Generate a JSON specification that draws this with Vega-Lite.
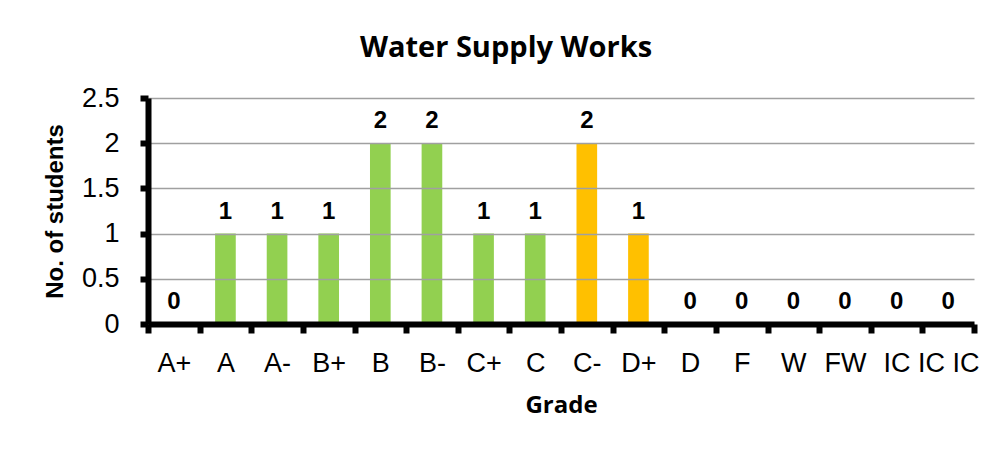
{
  "$schema": "https://vega.github.io/schema/vega-lite/v6.json",
  "width": 826,
  "height": 226,
  "autosize": {"type": "none"},
  "padding": {"left": 148, "top": 98, "right": 20, "bottom": 126},
  "background": "white",
  "config": {"view": {"stroke": null}},
  "title": {
    "text": "Water Supply Works",
    "font": "Open Sans",
    "fontSize": 29,
    "fontWeight": "bold",
    "color": "#000000",
    "anchor": "middle",
    "dx": -55,
    "offset": 21
  },
  "data": {
    "values": [
      {"grade": "A+", "count": 0, "tier": "pass"},
      {"grade": "A", "count": 1, "tier": "pass"},
      {"grade": "A-", "count": 1, "tier": "pass"},
      {"grade": "B+", "count": 1, "tier": "pass"},
      {"grade": "B", "count": 2, "tier": "pass"},
      {"grade": "B-", "count": 2, "tier": "pass"},
      {"grade": "C+", "count": 1, "tier": "pass"},
      {"grade": "C", "count": 1, "tier": "pass"},
      {"grade": "C-", "count": 2, "tier": "marginal"},
      {"grade": "D+", "count": 1, "tier": "marginal"},
      {"grade": "D", "count": 0, "tier": "fail"},
      {"grade": "F", "count": 0, "tier": "fail"},
      {"grade": "W", "count": 0, "tier": "fail"},
      {"grade": "FW", "count": 0, "tier": "fail"},
      {"grade": "IC", "count": 0, "tier": "fail"},
      {"grade": "IC IC", "count": 0, "tier": "fail"}
    ]
  },
  "encoding": {
    "x": {
      "field": "grade",
      "type": "nominal",
      "sort": null,
      "scale": {"paddingInner": 0, "paddingOuter": 0},
      "axis": {
        "title": "Grade",
        "titleFont": "Open Sans",
        "titleFontSize": 24,
        "titleFontWeight": "bold",
        "titleColor": "#000000",
        "titlePadding": 17,
        "labelAngle": 0,
        "labelFont": "Liberation Sans",
        "labelFontSize": 27,
        "labelColor": "#000000",
        "labelPadding": 17,
        "labelOverlap": false,
        "labelLimit": 200,
        "labelBound": false,
        "domainColor": "#000000",
        "domainWidth": 6,
        "tickColor": "#000000",
        "tickWidth": 6,
        "tickSize": 9,
        "tickBand": "extent",
        "grid": false,
        "zindex": 2
      }
    },
    "y": {
      "field": "count",
      "type": "quantitative",
      "scale": {"domain": [0, 2.5], "nice": false},
      "axis": {
        "title": "No. of students",
        "titleFont": "Liberation Sans",
        "titleFontSize": 24,
        "titleFontWeight": "bold",
        "titleColor": "#000000",
        "titlePadding": 14,
        "values": [0, 0.5, 1, 1.5, 2, 2.5],
        "format": "~g",
        "labelFont": "Liberation Sans",
        "labelFontSize": 27,
        "labelColor": "#000000",
        "labelPadding": 21,
        "domainColor": "#000000",
        "domainWidth": 6,
        "tickColor": "#000000",
        "tickWidth": 6,
        "tickSize": 8,
        "grid": true,
        "gridColor": "#a0a0a0",
        "gridWidth": 1.5,
        "zindex": 1
      }
    }
  },
  "layer": [
    {
      "mark": {"type": "bar", "width": {"band": 0.4}},
      "encoding": {
        "color": {
          "field": "tier",
          "type": "nominal",
          "scale": {"domain": ["pass", "marginal", "fail"], "range": ["#92D050", "#FFC000", "#92D050"]},
          "legend": null
        }
      }
    },
    {
      "mark": {
        "type": "text",
        "baseline": "alphabetic",
        "dy": -15,
        "font": "Liberation Sans",
        "fontSize": 24,
        "fontWeight": "bold",
        "color": "#000000"
      },
      "encoding": {"text": {"field": "count", "type": "quantitative"}}
    }
  ]
}
